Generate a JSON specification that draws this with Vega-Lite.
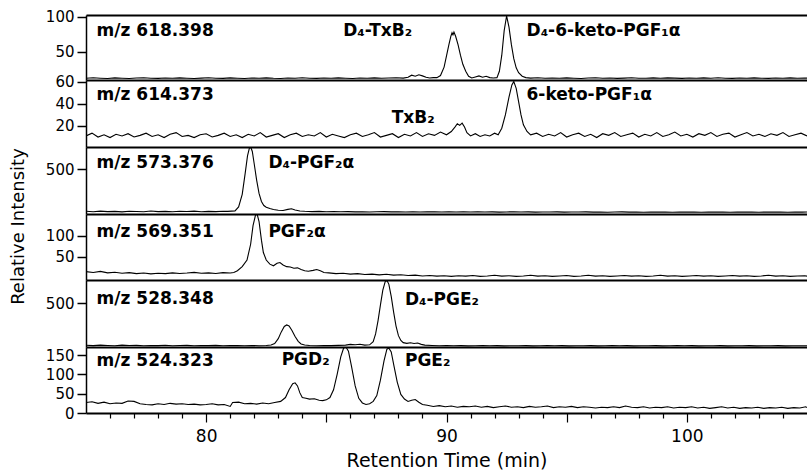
{
  "$schema": "https://vega.github.io/schema/vega-lite/v6.json",
  "background": "white",
  "padding": {"left": 8, "top": 9, "right": 0, "bottom": 0},
  "spacing": 0,
  "bounds": "flush",
  "config": {
    "view": {"stroke": null},
    "axis": {"domainColor": "black", "tickColor": "black", "labelColor": "black", "titleColor": "black", "labelFont": "DejaVu Sans", "titleFont": "DejaVu Sans", "titleFontWeight": "normal", "grid": false},
    "text": {"font": "DejaVu Sans", "fontWeight": "bold", "fontSize": 17, "align": "left", "baseline": "middle", "color": "black"}
  },
  "resolve": {"scale": {"y": "independent"}},
  "datasets": {
    "labels": [
      {"p": 1, "t": 75.44, "v": 79.5, "label": "m/z 618.398"},
      {"p": 1, "t": 85.7, "v": 79.5, "label": "D₄-TxB₂"},
      {"p": 1, "t": 93.33, "v": 79.5, "label": "D₄-6-keto-PGF₁α"},
      {"p": 2, "t": 75.44, "v": 48, "label": "m/z 614.373"},
      {"p": 2, "t": 87.72, "v": 27.2, "label": "TxB₂"},
      {"p": 2, "t": 93.33, "v": 48, "label": "6-keto-PGF₁α"},
      {"p": 3, "t": 75.44, "v": 576, "label": "m/z 573.376"},
      {"p": 3, "t": 82.59, "v": 576, "label": "D₄-PGF₂α"},
      {"p": 4, "t": 75.44, "v": 110.4, "label": "m/z 569.351"},
      {"p": 4, "t": 82.59, "v": 110.4, "label": "PGF₂α"},
      {"p": 5, "t": 75.44, "v": 550, "label": "m/z 528.348"},
      {"p": 5, "t": 88.27, "v": 538, "label": "D₄-PGE₂"},
      {"p": 6, "t": 75.44, "v": 134.5, "label": "m/z 524.323"},
      {"p": 6, "t": 83.14, "v": 137, "label": "PGD₂"},
      {"p": 6, "t": 88.27, "v": 134.5, "label": "PGE₂"}
    ],
    "p1": [
      {"t":75,"v":12},{"t":75.3,"v":12.8},{"t":75.6,"v":12.2},{"t":75.9,"v":11.8},{"t":76.2,"v":12.6},{"t":76.5,"v":12.1},{"t":76.8,"v":11.7},{"t":77.1,"v":12.4},{"t":77.4,"v":12.9},{"t":77.7,"v":12.2},{"t":78,"v":11.9},{"t":78.3,"v":12.5},{"t":78.6,"v":12},{"t":78.9,"v":12.7},{"t":79.2,"v":12.2},{"t":79.5,"v":11.8},{"t":79.8,"v":12.3},{"t":80.1,"v":12.9},{"t":80.4,"v":12.1},{"t":80.7,"v":11.9},{"t":81,"v":12.6},{"t":81.3,"v":12.2},{"t":81.6,"v":11.8},{"t":81.9,"v":12.4},{"t":82.2,"v":12.1},{"t":82.5,"v":12.7},{"t":82.8,"v":12},{"t":83.1,"v":11.8},{"t":83.4,"v":12.5},{"t":83.7,"v":12.2},{"t":84,"v":12.8},{"t":84.3,"v":12.1},{"t":84.6,"v":11.9},{"t":84.9,"v":12.4},{"t":85.2,"v":12},{"t":85.5,"v":12.6},{"t":85.8,"v":12.2},{"t":86.1,"v":11.8},{"t":86.4,"v":12.5},{"t":86.7,"v":12.1},{"t":87,"v":12.7},{"t":87.3,"v":12},{"t":87.6,"v":12.4},{"t":87.9,"v":12.9},{"t":88.2,"v":12.3},{"t":88.4,"v":13.5},{"t":88.55,"v":16.5},{"t":88.7,"v":15},{"t":88.85,"v":17},{"t":89,"v":15.5},{"t":89.15,"v":13.5},{"t":89.3,"v":12.5},{"t":89.45,"v":13},{"t":89.6,"v":13},{"t":89.75,"v":16},{"t":89.9,"v":28},{"t":90,"v":44},{"t":90.1,"v":60},{"t":90.18,"v":72},{"t":90.23,"v":77},{"t":90.27,"v":74},{"t":90.31,"v":78},{"t":90.38,"v":72},{"t":90.48,"v":60},{"t":90.58,"v":45},{"t":90.68,"v":32},{"t":90.8,"v":22},{"t":90.92,"v":15},{"t":91.05,"v":12.5},{"t":91.2,"v":14},{"t":91.35,"v":15.5},{"t":91.5,"v":13.5},{"t":91.65,"v":15},{"t":91.8,"v":13},{"t":91.95,"v":12.5},{"t":92.1,"v":13},{"t":92.2,"v":22},{"t":92.3,"v":45},{"t":92.4,"v":80},{"t":92.5,"v":101},{"t":92.6,"v":85},{"t":92.7,"v":60},{"t":92.8,"v":40},{"t":92.9,"v":27},{"t":93,"v":20},{"t":93.15,"v":15},{"t":93.3,"v":13},{"t":93.5,"v":12.3},{"t":93.8,"v":12.8},{"t":94.1,"v":12.1},{"t":94.4,"v":12.5},{"t":94.7,"v":12},{"t":95,"v":12.6},{"t":95.3,"v":12.2},{"t":95.6,"v":11.8},{"t":95.9,"v":12.4},{"t":96.2,"v":12.9},{"t":96.5,"v":12.1},{"t":96.8,"v":12.5},{"t":97.1,"v":11.9},{"t":97.4,"v":12.3},{"t":97.7,"v":12.8},{"t":98,"v":12.2},{"t":98.3,"v":12},{"t":98.6,"v":12.6},{"t":98.9,"v":12.1},{"t":99.2,"v":12.7},{"t":99.5,"v":12.3},{"t":99.8,"v":11.9},{"t":100.1,"v":12.4},{"t":100.4,"v":12},{"t":100.7,"v":12.6},{"t":101,"v":12.2},{"t":101.3,"v":12.8},{"t":101.6,"v":12.1},{"t":101.9,"v":11.9},{"t":102.2,"v":12.5},{"t":102.5,"v":12.1},{"t":102.8,"v":12.7},{"t":103.1,"v":12.2},{"t":103.4,"v":11.9},{"t":103.7,"v":12.4},{"t":104,"v":12},{"t":104.3,"v":12.6},{"t":104.6,"v":12.2},{"t":104.9,"v":12.5},{"t":105,"v":12.3}
    ],
    "p2": [
      {"t":75,"v":11},{"t":75.25,"v":13.5},{"t":75.5,"v":10},{"t":75.75,"v":12},{"t":76,"v":9.5},{"t":76.25,"v":12.5},{"t":76.5,"v":11},{"t":76.75,"v":13},{"t":77,"v":10},{"t":77.25,"v":11.5},{"t":77.5,"v":13.5},{"t":77.75,"v":10.5},{"t":78,"v":12},{"t":78.25,"v":9.5},{"t":78.5,"v":12.5},{"t":78.75,"v":14},{"t":79,"v":10.5},{"t":79.25,"v":11.5},{"t":79.5,"v":9.5},{"t":79.75,"v":12},{"t":80,"v":13},{"t":80.25,"v":10},{"t":80.5,"v":11.5},{"t":80.75,"v":13.5},{"t":81,"v":10.5},{"t":81.25,"v":12},{"t":81.5,"v":9.5},{"t":81.75,"v":12.5},{"t":82,"v":11},{"t":82.25,"v":14},{"t":82.5,"v":10},{"t":82.75,"v":11.5},{"t":83,"v":13},{"t":83.25,"v":9.5},{"t":83.5,"v":12},{"t":83.75,"v":13.5},{"t":84,"v":10.5},{"t":84.25,"v":12},{"t":84.5,"v":11},{"t":84.75,"v":14},{"t":85,"v":10},{"t":85.25,"v":12.5},{"t":85.5,"v":11},{"t":85.75,"v":9.5},{"t":86,"v":12},{"t":86.25,"v":13.5},{"t":86.5,"v":10.5},{"t":86.75,"v":12},{"t":87,"v":14},{"t":87.25,"v":10},{"t":87.5,"v":11.5},{"t":87.75,"v":13},{"t":88,"v":9.5},{"t":88.25,"v":12.5},{"t":88.5,"v":11},{"t":88.75,"v":14},{"t":89,"v":10.5},{"t":89.25,"v":13},{"t":89.5,"v":11.5},{"t":89.75,"v":14.5},{"t":90,"v":12},{"t":90.2,"v":15},{"t":90.35,"v":19},{"t":90.45,"v":22},{"t":90.55,"v":20.5},{"t":90.65,"v":22.5},{"t":90.75,"v":19},{"t":90.85,"v":14},{"t":91,"v":11},{"t":91.2,"v":13},{"t":91.4,"v":10.5},{"t":91.6,"v":12},{"t":91.8,"v":11},{"t":92,"v":13.5},{"t":92.15,"v":12},{"t":92.3,"v":18},{"t":92.45,"v":30},{"t":92.6,"v":46},{"t":92.72,"v":57},{"t":92.8,"v":60},{"t":92.9,"v":54},{"t":93,"v":42},{"t":93.1,"v":30},{"t":93.2,"v":21},{"t":93.35,"v":15},{"t":93.5,"v":12},{"t":93.75,"v":13.5},{"t":94,"v":10.5},{"t":94.25,"v":12.5},{"t":94.5,"v":11},{"t":94.75,"v":14},{"t":95,"v":10},{"t":95.25,"v":12},{"t":95.5,"v":13.5},{"t":95.75,"v":10.5},{"t":96,"v":12.5},{"t":96.25,"v":9.5},{"t":96.5,"v":13},{"t":96.75,"v":11.5},{"t":97,"v":14},{"t":97.25,"v":10.5},{"t":97.5,"v":12},{"t":97.75,"v":13.5},{"t":98,"v":10},{"t":98.25,"v":12.5},{"t":98.5,"v":11},{"t":98.75,"v":14},{"t":99,"v":10.5},{"t":99.25,"v":12},{"t":99.5,"v":14.5},{"t":99.75,"v":11},{"t":100,"v":12.5},{"t":100.25,"v":10},{"t":100.5,"v":13},{"t":100.75,"v":11.5},{"t":101,"v":14},{"t":101.25,"v":10.5},{"t":101.5,"v":12.5},{"t":101.75,"v":13.5},{"t":102,"v":10},{"t":102.25,"v":12},{"t":102.5,"v":14},{"t":102.75,"v":11},{"t":103,"v":12.5},{"t":103.25,"v":10.5},{"t":103.5,"v":13},{"t":103.75,"v":11.5},{"t":104,"v":14},{"t":104.25,"v":10.5},{"t":104.5,"v":12},{"t":104.75,"v":13.5},{"t":105,"v":11}
    ],
    "p3": [
      {"t":75,"v":30},{"t":75.3,"v":25},{"t":75.6,"v":32},{"t":75.9,"v":27},{"t":76.2,"v":29},{"t":76.5,"v":24},{"t":76.8,"v":31},{"t":77.1,"v":28},{"t":77.4,"v":26},{"t":77.7,"v":33},{"t":78,"v":27},{"t":78.3,"v":29},{"t":78.6,"v":25},{"t":78.9,"v":30},{"t":79.2,"v":28},{"t":79.5,"v":32},{"t":79.8,"v":26},{"t":80.1,"v":29},{"t":80.4,"v":27},{"t":80.7,"v":31},{"t":80.9,"v":29},{"t":81.05,"v":32},{"t":81.2,"v":35},{"t":81.35,"v":80},{"t":81.5,"v":220},{"t":81.62,"v":450},{"t":81.72,"v":650},{"t":81.8,"v":740},{"t":81.86,"v":745},{"t":81.92,"v":700},{"t":82,"v":560},{"t":82.1,"v":380},{"t":82.2,"v":230},{"t":82.3,"v":140},{"t":82.4,"v":95},{"t":82.5,"v":75},{"t":82.65,"v":62},{"t":82.8,"v":50},{"t":83,"v":42},{"t":83.2,"v":40},{"t":83.4,"v":52},{"t":83.55,"v":58},{"t":83.7,"v":45},{"t":83.9,"v":34},{"t":84.1,"v":30},{"t":84.4,"v":27},{"t":84.7,"v":29},{"t":85,"v":26},{"t":85.3,"v":28},{"t":85.6,"v":25},{"t":85.9,"v":27},{"t":86.2,"v":24},{"t":86.5,"v":26},{"t":86.8,"v":23},{"t":87.1,"v":25},{"t":87.4,"v":27},{"t":87.7,"v":24},{"t":88,"v":26},{"t":88.3,"v":23},{"t":88.6,"v":25},{"t":88.9,"v":22},{"t":89.2,"v":24},{"t":89.5,"v":26},{"t":89.8,"v":23},{"t":90.1,"v":25},{"t":90.4,"v":22},{"t":90.7,"v":24},{"t":91,"v":23},{"t":91.3,"v":25},{"t":91.6,"v":22},{"t":91.9,"v":24},{"t":92.2,"v":21},{"t":92.5,"v":23},{"t":92.8,"v":25},{"t":93.1,"v":22},{"t":93.4,"v":24},{"t":93.7,"v":21},{"t":94,"v":23},{"t":94.3,"v":22},{"t":94.6,"v":24},{"t":94.9,"v":21},{"t":95.2,"v":23},{"t":95.5,"v":22},{"t":95.8,"v":24},{"t":96.1,"v":21},{"t":96.4,"v":23},{"t":96.7,"v":20},{"t":97,"v":22},{"t":97.3,"v":24},{"t":97.6,"v":21},{"t":97.9,"v":23},{"t":98.2,"v":20},{"t":98.5,"v":22},{"t":98.8,"v":21},{"t":99.1,"v":23},{"t":99.4,"v":20},{"t":99.7,"v":22},{"t":100,"v":21},{"t":100.3,"v":23},{"t":100.6,"v":20},{"t":100.9,"v":22},{"t":101.2,"v":21},{"t":101.5,"v":23},{"t":101.8,"v":20},{"t":102.1,"v":22},{"t":102.4,"v":21},{"t":102.7,"v":23},{"t":103,"v":20},{"t":103.3,"v":22},{"t":103.6,"v":21},{"t":103.9,"v":23},{"t":104.2,"v":20},{"t":104.5,"v":22},{"t":104.8,"v":21},{"t":105,"v":22}
    ],
    "p4": [
      {"t":75,"v":14},{"t":75.3,"v":12},{"t":75.6,"v":14.5},{"t":75.9,"v":11},{"t":76.2,"v":12.5},{"t":76.5,"v":10},{"t":76.8,"v":11.5},{"t":77.1,"v":9},{"t":77.4,"v":10.5},{"t":77.7,"v":8.5},{"t":78,"v":10},{"t":78.3,"v":9},{"t":78.6,"v":11},{"t":78.9,"v":9.5},{"t":79.2,"v":10.5},{"t":79.5,"v":12},{"t":79.8,"v":10},{"t":80.1,"v":11},{"t":80.4,"v":9.5},{"t":80.7,"v":11.5},{"t":81,"v":10.5},{"t":81.15,"v":12},{"t":81.3,"v":16},{"t":81.5,"v":26},{"t":81.7,"v":42},{"t":81.85,"v":80},{"t":81.95,"v":125},{"t":82.05,"v":150},{"t":82.12,"v":153},{"t":82.2,"v":135},{"t":82.3,"v":90},{"t":82.38,"v":60},{"t":82.5,"v":42},{"t":82.65,"v":32},{"t":82.8,"v":28},{"t":82.95,"v":34},{"t":83.07,"v":36},{"t":83.2,"v":30},{"t":83.35,"v":26},{"t":83.5,"v":25},{"t":83.65,"v":22},{"t":83.8,"v":23},{"t":83.95,"v":19},{"t":84.1,"v":16},{"t":84.25,"v":15},{"t":84.45,"v":17},{"t":84.6,"v":19},{"t":84.75,"v":16},{"t":84.9,"v":12},{"t":85.1,"v":11},{"t":85.4,"v":9},{"t":85.7,"v":10},{"t":86,"v":8},{"t":86.3,"v":9},{"t":86.6,"v":7},{"t":86.9,"v":8},{"t":87.2,"v":6},{"t":87.5,"v":7.5},{"t":87.8,"v":5.5},{"t":88.1,"v":6.5},{"t":88.4,"v":4.5},{"t":88.7,"v":5.5},{"t":89,"v":3.5},{"t":89.3,"v":4.5},{"t":89.6,"v":3},{"t":89.9,"v":4},{"t":90.2,"v":2.5},{"t":90.5,"v":4},{"t":90.8,"v":3},{"t":91.1,"v":4.5},{"t":91.4,"v":2.5},{"t":91.7,"v":3.5},{"t":92,"v":5},{"t":92.3,"v":3},{"t":92.6,"v":4},{"t":92.9,"v":2.5},{"t":93.2,"v":3.5},{"t":93.5,"v":5},{"t":93.8,"v":3},{"t":94.1,"v":4},{"t":94.4,"v":2.5},{"t":94.7,"v":3.5},{"t":95,"v":4.5},{"t":95.3,"v":2.5},{"t":95.6,"v":3.5},{"t":95.9,"v":5},{"t":96.2,"v":3},{"t":96.5,"v":4},{"t":96.8,"v":2.5},{"t":97.1,"v":3.5},{"t":97.4,"v":4.5},{"t":97.7,"v":3},{"t":98,"v":4},{"t":98.3,"v":2.5},{"t":98.6,"v":3.5},{"t":98.9,"v":5},{"t":99.2,"v":3},{"t":99.5,"v":4},{"t":99.8,"v":2.5},{"t":100.1,"v":3.5},{"t":100.4,"v":4.5},{"t":100.7,"v":3},{"t":101,"v":4},{"t":101.3,"v":2.5},{"t":101.6,"v":3.5},{"t":101.9,"v":4.5},{"t":102.2,"v":3},{"t":102.5,"v":4},{"t":102.8,"v":2.5},{"t":103.1,"v":3.5},{"t":103.4,"v":5},{"t":103.7,"v":3},{"t":104,"v":4},{"t":104.3,"v":2.5},{"t":104.6,"v":3.5},{"t":104.9,"v":4},{"t":105,"v":3}
    ],
    "p5": [
      {"t":75,"v":20},{"t":75.3,"v":16},{"t":75.6,"v":22},{"t":75.9,"v":18},{"t":76.2,"v":15},{"t":76.5,"v":21},{"t":76.8,"v":17},{"t":77.1,"v":19},{"t":77.4,"v":14},{"t":77.7,"v":18},{"t":78,"v":16},{"t":78.3,"v":20},{"t":78.6,"v":15},{"t":78.9,"v":17},{"t":79.2,"v":19},{"t":79.5,"v":14},{"t":79.8,"v":17},{"t":80.1,"v":16},{"t":80.4,"v":19},{"t":80.7,"v":15},{"t":81,"v":18},{"t":81.3,"v":16},{"t":81.6,"v":14},{"t":81.9,"v":17},{"t":82.2,"v":15},{"t":82.5,"v":18},{"t":82.7,"v":22},{"t":82.85,"v":40},{"t":83,"v":95},{"t":83.12,"v":170},{"t":83.25,"v":235},{"t":83.35,"v":252},{"t":83.45,"v":240},{"t":83.57,"v":190},{"t":83.7,"v":120},{"t":83.83,"v":65},{"t":83.95,"v":35},{"t":84.1,"v":22},{"t":84.3,"v":17},{"t":84.6,"v":15},{"t":84.9,"v":18},{"t":85.2,"v":16},{"t":85.5,"v":19},{"t":85.8,"v":22},{"t":86,"v":30},{"t":86.2,"v":26},{"t":86.4,"v":32},{"t":86.6,"v":22},{"t":86.8,"v":25},{"t":86.95,"v":60},{"t":87.05,"v":150},{"t":87.15,"v":300},{"t":87.25,"v":480},{"t":87.35,"v":650},{"t":87.45,"v":750},{"t":87.52,"v":762},{"t":87.6,"v":720},{"t":87.7,"v":580},{"t":87.8,"v":400},{"t":87.9,"v":240},{"t":88,"v":130},{"t":88.1,"v":75},{"t":88.2,"v":50},{"t":88.35,"v":42},{"t":88.5,"v":48},{"t":88.65,"v":40},{"t":88.8,"v":45},{"t":88.95,"v":30},{"t":89.1,"v":22},{"t":89.4,"v":18},{"t":89.7,"v":15},{"t":90,"v":17},{"t":90.3,"v":14},{"t":90.6,"v":16},{"t":90.9,"v":13},{"t":91.2,"v":15},{"t":91.5,"v":17},{"t":91.8,"v":14},{"t":92.1,"v":16},{"t":92.4,"v":13},{"t":92.7,"v":15},{"t":93,"v":14},{"t":93.3,"v":16},{"t":93.6,"v":13},{"t":93.9,"v":15},{"t":94.2,"v":17},{"t":94.5,"v":14},{"t":94.8,"v":16},{"t":95.1,"v":13},{"t":95.4,"v":15},{"t":95.7,"v":14},{"t":96,"v":16},{"t":96.3,"v":13},{"t":96.6,"v":15},{"t":96.9,"v":17},{"t":97.2,"v":14},{"t":97.5,"v":16},{"t":97.8,"v":13},{"t":98.1,"v":15},{"t":98.4,"v":14},{"t":98.7,"v":16},{"t":99,"v":13},{"t":99.3,"v":15},{"t":99.6,"v":17},{"t":99.9,"v":14},{"t":100.2,"v":16},{"t":100.5,"v":13},{"t":100.8,"v":15},{"t":101.1,"v":14},{"t":101.4,"v":16},{"t":101.7,"v":13},{"t":102,"v":15},{"t":102.3,"v":14},{"t":102.6,"v":16},{"t":102.9,"v":13},{"t":103.2,"v":15},{"t":103.5,"v":14},{"t":103.8,"v":16},{"t":104.1,"v":13},{"t":104.4,"v":15},{"t":104.7,"v":14},{"t":105,"v":15}
    ],
    "p6": [
      {"t":75,"v":27},{"t":75.25,"v":29},{"t":75.5,"v":25},{"t":75.75,"v":28},{"t":76,"v":24},{"t":76.25,"v":26},{"t":76.5,"v":25},{"t":76.75,"v":31},{"t":77,"v":30},{"t":77.25,"v":24},{"t":77.5,"v":22},{"t":77.75,"v":21},{"t":78,"v":24},{"t":78.25,"v":22},{"t":78.5,"v":25},{"t":78.75,"v":23},{"t":79,"v":24},{"t":79.25,"v":22},{"t":79.5,"v":23},{"t":79.75,"v":21},{"t":80,"v":22},{"t":80.25,"v":24},{"t":80.5,"v":21},{"t":80.75,"v":22},{"t":81,"v":17},{"t":81.1,"v":27},{"t":81.35,"v":28},{"t":81.6,"v":24},{"t":81.85,"v":25},{"t":82.1,"v":23},{"t":82.35,"v":26},{"t":82.6,"v":24},{"t":82.85,"v":27},{"t":83.1,"v":30},{"t":83.3,"v":40},{"t":83.45,"v":60},{"t":83.6,"v":76},{"t":83.7,"v":78},{"t":83.8,"v":70},{"t":83.9,"v":52},{"t":84,"v":40},{"t":84.15,"v":38},{"t":84.3,"v":36},{"t":84.5,"v":37},{"t":84.7,"v":33},{"t":84.85,"v":32},{"t":85,"v":34},{"t":85.15,"v":40},{"t":85.3,"v":60},{"t":85.45,"v":100},{"t":85.6,"v":145},{"t":85.72,"v":168},{"t":85.82,"v":170},{"t":85.92,"v":160},{"t":86.05,"v":120},{"t":86.2,"v":70},{"t":86.35,"v":38},{"t":86.5,"v":26},{"t":86.65,"v":22},{"t":86.8,"v":24},{"t":86.95,"v":30},{"t":87.1,"v":45},{"t":87.25,"v":85},{"t":87.4,"v":135},{"t":87.52,"v":165},{"t":87.6,"v":168},{"t":87.7,"v":158},{"t":87.82,"v":120},{"t":87.95,"v":80},{"t":88.1,"v":48},{"t":88.25,"v":36},{"t":88.4,"v":30},{"t":88.55,"v":33},{"t":88.7,"v":35},{"t":88.85,"v":28},{"t":89,"v":22},{"t":89.2,"v":20},{"t":89.45,"v":17},{"t":89.7,"v":19},{"t":89.95,"v":16},{"t":90.2,"v":18},{"t":90.45,"v":15},{"t":90.7,"v":17},{"t":90.95,"v":16},{"t":91.2,"v":18},{"t":91.45,"v":15},{"t":91.7,"v":17},{"t":91.95,"v":14},{"t":92.2,"v":16},{"t":92.45,"v":18},{"t":92.7,"v":15},{"t":92.95,"v":16},{"t":93.2,"v":14},{"t":93.45,"v":17},{"t":93.7,"v":15},{"t":93.95,"v":16},{"t":94.2,"v":18},{"t":94.45,"v":14},{"t":94.7,"v":16},{"t":94.95,"v":15},{"t":95.2,"v":17},{"t":95.45,"v":14},{"t":95.7,"v":16},{"t":95.95,"v":15},{"t":96.2,"v":13},{"t":96.45,"v":15},{"t":96.7,"v":14},{"t":96.95,"v":16},{"t":97.2,"v":14},{"t":97.45,"v":18},{"t":97.7,"v":15},{"t":97.95,"v":14},{"t":98.2,"v":16},{"t":98.45,"v":13},{"t":98.7,"v":15},{"t":98.95,"v":14},{"t":99.2,"v":16},{"t":99.45,"v":13},{"t":99.7,"v":15},{"t":99.95,"v":14},{"t":100.2,"v":16},{"t":100.45,"v":13},{"t":100.7,"v":15},{"t":100.95,"v":12},{"t":101.2,"v":14},{"t":101.45,"v":16},{"t":101.7,"v":13},{"t":101.95,"v":15},{"t":102.2,"v":12},{"t":102.45,"v":14},{"t":102.7,"v":13},{"t":102.95,"v":15},{"t":103.2,"v":12},{"t":103.45,"v":14},{"t":103.7,"v":13},{"t":103.95,"v":15},{"t":104.2,"v":12},{"t":104.45,"v":14},{"t":104.7,"v":13},{"t":104.95,"v":16},{"t":105,"v":14}
    ]
  },
  "vconcat": [
    {
      "width": 721, "height": 65,
      "resolve": {"axis": {"x": "independent", "y": "independent"}},
      "layer": [
        {"data": {"name": "p1"}, "mark": {"type": "line", "color": "black", "strokeWidth": 1.1, "clip": true},
         "encoding": {
           "x": {"field": "t", "type": "quantitative", "title": null, "scale": {"domain": [75, 105], "nice": false, "zero": false}, "axis": {"orient": "bottom", "domain": true, "domainWidth": 2, "ticks": false, "labels": false}},
           "y": {"field": "v", "type": "quantitative", "title": null, "scale": {"domain": [9.6, 102.4], "nice": false, "zero": false}, "axis": {"orient": "left", "values": [50, 100], "tickSize": 9, "tickWidth": 1.5, "labelPadding": 3, "labelFontSize": 15, "labelFlush": false, "labelOverlap": false, "domainWidth": 1.5}}
         }},
        {"data": {"name": "labels"}, "transform": [{"filter": "datum.p == 1"}], "mark": {"type": "text"},
         "encoding": {
           "x": {"field": "t", "type": "quantitative", "title": null, "scale": {"domain": [75, 105], "nice": false, "zero": false}, "axis": {"orient": "top", "domain": true, "domainWidth": 2, "ticks": false, "labels": false}},
           "y": {"field": "v", "type": "quantitative", "title": null, "axis": null},
           "text": {"field": "label"}
         }}
      ]
    },
    {
      "width": 721, "height": 67,
      "resolve": {"axis": {"x": "independent", "y": "independent"}},
      "layer": [
        {"data": {"name": "p2"}, "mark": {"type": "line", "color": "black", "strokeWidth": 1.1, "clip": true},
         "encoding": {
           "x": {"field": "t", "type": "quantitative", "title": null, "scale": {"domain": [75, 105], "nice": false, "zero": false}, "axis": {"orient": "bottom", "domain": true, "domainWidth": 2, "ticks": false, "labels": false}},
           "y": {"field": "v", "type": "quantitative", "title": null, "scale": {"domain": [1, 61.5], "nice": false, "zero": false}, "axis": {"orient": "left", "values": [20, 40, 60], "tickSize": 9, "tickWidth": 1.5, "labelPadding": 3, "labelFontSize": 15, "labelFlush": false, "labelOverlap": false, "domainWidth": 1.5}}
         }},
        {"data": {"name": "labels"}, "transform": [{"filter": "datum.p == 2"}], "mark": {"type": "text"},
         "encoding": {
           "x": {"field": "t", "type": "quantitative", "title": null, "axis": null},
           "y": {"field": "v", "type": "quantitative", "title": null, "axis": null},
           "text": {"field": "label"}
         }}
      ]
    },
    {
      "width": 721, "height": 67,
      "resolve": {"axis": {"x": "independent", "y": "independent"}},
      "layer": [
        {"data": {"name": "p3"}, "mark": {"type": "line", "color": "black", "strokeWidth": 1.1, "clip": true},
         "encoding": {
           "x": {"field": "t", "type": "quantitative", "title": null, "scale": {"domain": [75, 105], "nice": false, "zero": false}, "axis": {"orient": "bottom", "domain": true, "domainWidth": 2, "ticks": false, "labels": false}},
           "y": {"field": "v", "type": "quantitative", "title": null, "scale": {"domain": [0, 750], "nice": false, "zero": false}, "axis": {"orient": "left", "values": [500], "tickSize": 9, "tickWidth": 1.5, "labelPadding": 3, "labelFontSize": 15, "labelFlush": false, "labelOverlap": false, "domainWidth": 1.5}}
         }},
        {"data": {"name": "labels"}, "transform": [{"filter": "datum.p == 3"}], "mark": {"type": "text"},
         "encoding": {
           "x": {"field": "t", "type": "quantitative", "title": null, "axis": null},
           "y": {"field": "v", "type": "quantitative", "title": null, "axis": null},
           "text": {"field": "label"}
         }}
      ]
    },
    {
      "width": 721, "height": 66,
      "resolve": {"axis": {"x": "independent", "y": "independent"}},
      "layer": [
        {"data": {"name": "p4"}, "mark": {"type": "line", "color": "black", "strokeWidth": 1.1, "clip": true},
         "encoding": {
           "x": {"field": "t", "type": "quantitative", "title": null, "scale": {"domain": [75, 105], "nice": false, "zero": false}, "axis": {"orient": "bottom", "domain": true, "domainWidth": 2, "ticks": false, "labels": false}},
           "y": {"field": "v", "type": "quantitative", "title": "Relative Intensity", "scale": {"domain": [-6.3, 153.1], "nice": false, "zero": false}, "axis": {"orient": "left", "values": [50, 100], "tickSize": 9, "tickWidth": 1.5, "labelPadding": 3, "labelFontSize": 15, "labelFlush": false, "labelOverlap": false, "domainWidth": 1.5, "titleX": -68, "titleY": 12, "titleAngle": 270, "titleAlign": "center", "titleBaseline": "middle", "titleFontSize": 18}}
         }},
        {"data": {"name": "labels"}, "transform": [{"filter": "datum.p == 4"}], "mark": {"type": "text"},
         "encoding": {
           "x": {"field": "t", "type": "quantitative", "title": null, "axis": null},
           "y": {"field": "v", "type": "quantitative", "title": null, "axis": null},
           "text": {"field": "label"}
         }}
      ]
    },
    {
      "width": 721, "height": 67,
      "resolve": {"axis": {"x": "independent", "y": "independent"}},
      "layer": [
        {"data": {"name": "p5"}, "mark": {"type": "line", "color": "black", "strokeWidth": 1.1, "clip": true},
         "encoding": {
           "x": {"field": "t", "type": "quantitative", "title": null, "scale": {"domain": [75, 105], "nice": false, "zero": false}, "axis": {"orient": "bottom", "domain": true, "domainWidth": 2, "ticks": false, "labels": false}},
           "y": {"field": "v", "type": "quantitative", "title": null, "scale": {"domain": [0, 767], "nice": false, "zero": false}, "axis": {"orient": "left", "values": [500], "tickSize": 9, "tickWidth": 1.5, "labelPadding": 3, "labelFontSize": 15, "labelFlush": false, "labelOverlap": false, "domainWidth": 1.5}}
         }},
        {"data": {"name": "labels"}, "transform": [{"filter": "datum.p == 5"}], "mark": {"type": "text"},
         "encoding": {
           "x": {"field": "t", "type": "quantitative", "title": null, "axis": null},
           "y": {"field": "v", "type": "quantitative", "title": null, "axis": null},
           "text": {"field": "label"}
         }}
      ]
    },
    {
      "width": 721, "height": 66,
      "resolve": {"axis": {"x": "independent", "y": "independent"}},
      "layer": [
        {"data": {"name": "p6"}, "mark": {"type": "line", "color": "black", "strokeWidth": 1.1, "clip": true},
         "encoding": {
           "x": {"field": "t", "type": "quantitative", "title": null, "scale": {"domain": [75, 105], "nice": false, "zero": false}, "axis": {"orient": "bottom", "domain": true, "domainWidth": 2, "ticks": true, "tickSize": 5, "tickWidth": 1.2, "labels": false, "values": [76, 77, 78, 79, 81, 82, 83, 84, 86, 87, 88, 89, 91, 92, 93, 94, 96, 97, 98, 99, 101, 102, 103, 104]}},
           "y": {"field": "v", "type": "quantitative", "title": null, "scale": {"domain": [0, 170.7], "nice": false, "zero": false}, "axis": {"orient": "left", "values": [0, 50, 100, 150], "tickSize": 9, "tickWidth": 1.5, "labelPadding": 3, "labelFontSize": 15, "labelFlush": false, "labelOverlap": false, "domainWidth": 1.5}}
         }},
        {"data": {"name": "labels"}, "transform": [{"filter": "datum.p == 6"}], "mark": {"type": "text"},
         "encoding": {
           "x": {"field": "t", "type": "quantitative", "title": "Retention Time (min)", "axis": {"orient": "bottom", "domain": false, "values": [80, 85, 90, 95, 100], "tickSize": 9, "tickWidth": 1.2, "labelExpr": "datum.value % 10 === 0 ? datum.label : ''", "labelFontSize": 17, "labelPadding": 6, "labelFlush": false, "labelOverlap": false, "titleFontSize": 19, "titlePadding": 7}},
           "y": {"field": "v", "type": "quantitative", "title": null, "axis": null},
           "text": {"field": "label"}
         }}
      ]
    }
  ]
}
